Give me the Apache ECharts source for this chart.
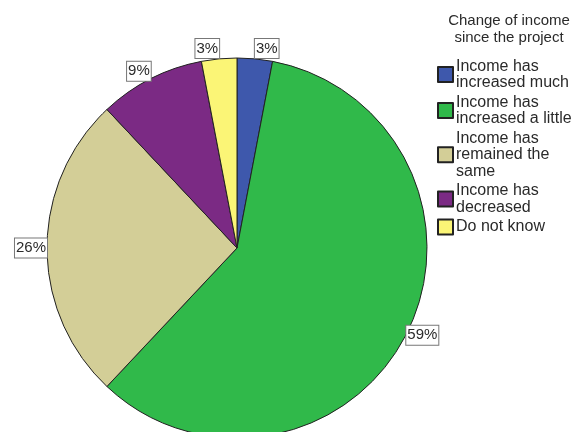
<!DOCTYPE html>
<html>
<head>
<meta charset="utf-8">
<script src="https://cdn.jsdelivr.net/npm/echarts@6/dist/echarts.min.js"></script>
<style>
  html, body { margin: 0; padding: 0; background: #fff; }
  #chart { width: 579px; height: 432px; }
</style>
</head>
<body>
<div id="chart"></div>
<script>
// Answers to "Change of income since the project" (percent of respondents)
const categories = [
  'Income has increased much',
  'Income has increased a little',
  'Income has remained the same',
  'Income has decreased',
  'Do not know'
];
const shares = [3, 59, 26, 9, 3];
const legendTitle = 'Change of income\nsince the project';

const palette = ['#3e58ac', '#30b94a', '#d3ce97', '#7b2a84', '#fbf576'];

// Pie geometry (pixels)
const CX = 237, CY = 248, R = 190;

// Mid angle of each slice, clockwise from 12 o'clock, from the data
const total = shares.reduce((a, b) => a + b, 0);
const midAngles = [];
let acc = 0;
shares.forEach(v => {
  midAngles.push(((acc + v / 2) / total) * 2 * Math.PI);
  acc += v;
});

const chart = echarts.init(document.getElementById('chart'), null, { renderer: 'canvas' });

chart.setOption({
  animation: false,
  backgroundColor: '#ffffff',
  title: {
    text: legendTitle,
    left: 504,
    top: 7,
    textAlign: 'center',
    textStyle: {
      fontFamily: 'Liberation Sans, Arial, sans-serif',
      fontSize: 15,
      fontWeight: 'normal',
      color: '#2a2a2a',
      lineHeight: 17
    }
  },
  legend: {
    orient: 'vertical',
    left: 432,
    top: 53,
    itemWidth: 15,
    itemHeight: 15,
    itemGap: 3,
    icon: 'rect',
    textStyle: {
      fontFamily: 'Liberation Sans, Arial, sans-serif',
      fontSize: 16,
      lineHeight: 16.5,
      color: '#2a2a2a',
      width: 120,
      overflow: 'break',
      padding: [0, 0, 0, -2]
    },
    data: categories
  },
  series: [{
    type: 'pie',
    center: [CX, CY],
    radius: R,
    startAngle: 90,
    clockwise: true,
    avoidLabelOverlap: false,
    silent: true,
    itemStyle: {
      borderColor: '#222222',
      borderWidth: 1
    },
    label: {
      show: true,
      position: 'outside',
      formatter: p => p.value + '%',
      fontFamily: 'Liberation Sans, Arial, sans-serif',
      fontSize: 15,
      lineHeight: 16,
      color: '#2a2a2a',
      backgroundColor: '#ffffff',
      borderColor: '#777777',
      borderWidth: 1,
      padding: [2, 1, 1, 1]
    },
    labelLine: { show: false },
    labelLayout: function (params) {
      const a = midAngles[params.dataIndex];
      const s = Math.sin(a), c = Math.cos(a);
      const px = CX + R * s;
      const py = CY - R * c;
      const h = params.labelRect.height;
      return {
        x: px,
        y: py - (h / 2) * Math.pow(c, 3),
        align: s >= 0 ? 'left' : 'right',
        verticalAlign: 'middle'
      };
    },
    data: categories.map((name, i) => ({
      name: name,
      value: shares[i],
      itemStyle: { color: palette[i] }
    }))
  }]
});
</script>
</body>
</html>
